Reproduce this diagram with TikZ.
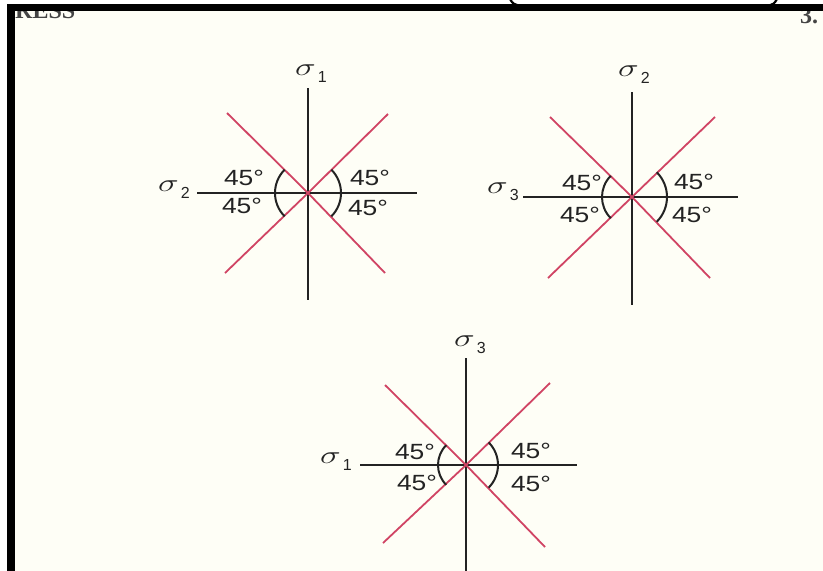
\documentclass[tikz,border=0pt]{standalone}
\usepackage{graphicx}
\usepackage{fontspec}
\setmainfont{Liberation Sans}
\newfontfamily\pagefont{Liberation Serif}
\definecolor{paper}{RGB}{254,254,246}
\definecolor{ink}{RGB}{35,35,35}
\definecolor{pinkred}{RGB}{208,68,100}
\newcommand{\stretchx}[1]{\scalebox{1.2}[1]{#1}}
\newcommand{\sigsub}[1]{\scalebox{1.4}[1]{$\sigma$}\kern2pt\raisebox{-7pt}{\fontsize{16}{18}\selectfont #1}}
\begin{document}
\begin{tikzpicture}[x=1pt,y=-1pt,
  axis/.style={draw=ink,line width=1.8pt},
  shear/.style={draw=pinkred,line width=1.8pt},
  angarc/.style={draw=ink,line width=2pt},
  deg/.style={text=ink,font=\fontsize{22}{25}\selectfont,inner sep=0pt},
  sig/.style={text=ink,font=\fontsize{25}{28}\selectfont,inner sep=0pt},
  pagetext/.style={text=ink!85,font=\pagefont\bfseries\fontsize{24}{24}\selectfont,inner sep=0pt,anchor=base west}]
\useasboundingbox (0,0) rectangle (823,571);
\fill[white] (0,0) rectangle (823,571);
\fill[paper] (15,11) rectangle (823,571);
% page fragments
\begin{scope}
  \clip (15,11) rectangle (823,40);
  \node[pagetext] (runhead) at (15,18) {RESS};
  \node[pagetext] (pagenum) at (800,23) {3.};
\end{scope}
\fill[black] (7,4) rectangle (823,11);
\fill[black] (7,4) rectangle (15,571);
\draw[black,line width=2.2pt] (510,-1) .. controls (513,4) .. (521,6);
\draw[black,line width=2.2pt] (777,-1) .. controls (774,4) .. (767,6);

% ---------- Diagram 1 ----------
\coordinate (c1) at (308,193);
\coordinate (v1t) at (308,88);  \coordinate (v1b) at (308,300);
\coordinate (h1l) at (197,193); \coordinate (h1r) at (417,193);
\coordinate (r1ul) at (227,113); \coordinate (r1lr) at (385,273);
\coordinate (r1ur) at (388,114); \coordinate (r1ll) at (225,273);
\draw[axis] (v1t) -- (v1b);
\draw[axis] (h1l) -- (h1r);
\draw[shear] (r1ul) -- (c1) -- (r1lr);
\draw[shear] (r1ur) -- (c1) -- (r1ll);
\draw[angarc] (c1) ++(135:33pt) arc[start angle=135,end angle=225,radius=33pt];
\draw[angarc] (c1) ++(-45:33pt) arc[start angle=-45,end angle=45,radius=33pt];
\node[sig] (s1top) at (311,74) {\sigsub{1}};
\node[sig] (s1left) at (174,190) {\sigsub{2}};
\node[deg] (d1ul) at (244,178) {\stretchx{45°}};
\node[deg] (d1ll) at (242,206) {\stretchx{45°}};
\node[deg] (d1ur) at (370,178) {\stretchx{45°}};
\node[deg] (d1lr) at (368,208) {\stretchx{45°}};

% ---------- Diagram 2 ----------
\coordinate (c2) at (632,197);
\coordinate (v2t) at (632,92);  \coordinate (v2b) at (632,305);
\coordinate (h2l) at (523,197); \coordinate (h2r) at (738,197);
\coordinate (r2ul) at (550,117); \coordinate (r2lr) at (710,278);
\coordinate (r2ur) at (715,117); \coordinate (r2ll) at (548,278);
\draw[axis] (v2t) -- (v2b);
\draw[axis] (h2l) -- (h2r);
\draw[shear] (r2ul) -- (c2) -- (r2lr);
\draw[shear] (r2ur) -- (c2) -- (r2ll);
\draw[angarc] (c2) ++(135:30pt) arc[start angle=135,end angle=225,radius=30pt];
\draw[angarc] (c2) ++(-45:35pt) arc[start angle=-45,end angle=45,radius=35pt];
\node[sig] (s2top) at (634,75) {\sigsub{2}};
\node[sig] (s2left) at (503,192) {\sigsub{3}};
\node[deg] (d2ul) at (582,183) {\stretchx{45°}};
\node[deg] (d2ll) at (580,215) {\stretchx{45°}};
\node[deg] (d2ur) at (694,182) {\stretchx{45°}};
\node[deg] (d2lr) at (692,215) {\stretchx{45°}};

% ---------- Diagram 3 ----------
\coordinate (c3) at (466,465);
\coordinate (v3t) at (466,358);  \coordinate (v3b) at (466,571);
\coordinate (h3l) at (360,465); \coordinate (h3r) at (577,465);
\coordinate (r3ul) at (385,385); \coordinate (r3lr) at (545,547);
\coordinate (r3ur) at (550,383); \coordinate (r3ll) at (383,543);
\draw[axis] (v3t) -- (v3b);
\draw[axis] (h3l) -- (h3r);
\draw[shear] (r3ul) -- (c3) -- (r3lr);
\draw[shear] (r3ur) -- (c3) -- (r3ll);
\draw[angarc] (c3) ++(135:28pt) arc[start angle=135,end angle=225,radius=28pt];
\draw[angarc] (c3) ++(-45:32pt) arc[start angle=-45,end angle=45,radius=32pt];
\node[sig] (s3top) at (470,345) {\sigsub{3}};
\node[sig] (s3left) at (336,462) {\sigsub{1}};
\node[deg] (d3ul) at (415,452) {\stretchx{45°}};
\node[deg] (d3ll) at (417,483) {\stretchx{45°}};
\node[deg] (d3ur) at (531,451) {\stretchx{45°}};
\node[deg] (d3lr) at (531,484) {\stretchx{45°}};
\end{tikzpicture}
\end{document}
